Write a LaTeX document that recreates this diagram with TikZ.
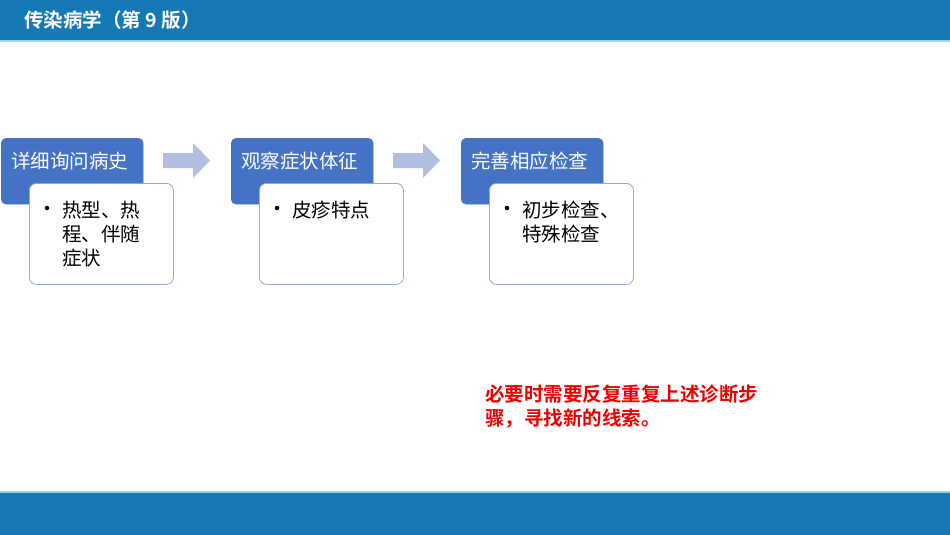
\documentclass[tikz,border=0pt]{standalone}
\usepackage{fontspec}
\setmainfont{Noto Sans CJK SC}
\newfontfamily\cjkb[BoldFont={Noto Sans CJK SC Bold}]{Noto Sans CJK SC}
\definecolor{band}{HTML}{1479B4}
\definecolor{bandline}{HTML}{9CD2EC}
\definecolor{hdr}{HTML}{4472C4}
\definecolor{bord}{HTML}{8EA9DB}
\definecolor{arr}{HTML}{B1BDE1}
\definecolor{redtxt}{HTML}{EE0000}
\tikzset{
  hdrbox/.style={fill=hdr, draw=hdr, rounded corners=5pt, minimum width=142pt, minimum height=66pt, anchor=north west, inner sep=0pt},
  bodybox/.style={fill=white, draw=bord, line width=0.8pt, rounded corners=7pt, minimum width=144pt, minimum height=101pt, anchor=north west, inner sep=0pt},
  hdrtext/.style={text=white, font=\fontsize{19.5}{22}\selectfont, anchor=west, inner sep=0pt},
  bullettext/.style={text=black, font=\fontsize{19.5}{24}\selectfont, anchor=north west, inner sep=0pt, align=left},
  dotstyle/.style={fill=black, circle, inner sep=0pt, minimum size=4.5pt},
  flowarrow/.style={fill=arr, draw=none}
}
\begin{document}
\begin{tikzpicture}[x=1pt,y=-1pt]
\useasboundingbox (0,0) rectangle (950,535);
\fill[white] (0,0) rectangle (950,535);
% bands
\fill[band] (0,0) rectangle (950,40);
\fill[bandline] (0,40) rectangle (950,42);
\fill[bandline] (0,491) rectangle (950,493);
\fill[band] (0,493) rectangle (950,535);
\node[text=white, font=\cjkb\bfseries\fontsize{19.5}{22}\selectfont, anchor=west, inner sep=0pt] (title) at (24,20) {传染病学（第 9 版）};
% stage 1
\node[hdrbox] (h1) at (1,138) {};
\node[bodybox] (b1) at (29,183) {};
\node[hdrtext] (t1) at (11,161) {详细询问病史};
\node[dotstyle] (d1) at (47,208) {};
\node[bullettext] (l1) at (62,201) {热型、热\\程、伴随\\症状};
% stage 2
\node[hdrbox] (h2) at (231,138) {};
\node[bodybox] (b2) at (259,183) {};
\node[hdrtext] (t2) at (241,161) {观察症状体征};
\node[dotstyle] (d2) at (277,208) {};
\node[bullettext] (l2) at (292,201) {皮疹特点};
% stage 3
\node[hdrbox] (h3) at (461,138) {};
\node[bodybox] (b3) at (489,183) {};
\node[hdrtext] (t3) at (471,161) {完善相应检查};
\node[dotstyle] (d3) at (507,208) {};
\node[bullettext] (l3) at (522,201) {初步检查、\\特殊检查};
% arrows
\fill[flowarrow] (163,153) -- (193,153) -- (193,143) -- (210,160.5) -- (193,178) -- (193,168) -- (163,168) -- cycle;
\fill[flowarrow] (393,153) -- (423,153) -- (423,143) -- (440,160.5) -- (423,178) -- (423,168) -- (393,168) -- cycle;
% red note
\node[text=redtxt, font=\cjkb\bfseries\fontsize{19.5}{23.5}\selectfont, anchor=north west, inner sep=0pt, align=left] (note) at (485,385) {必要时需要反复重复上述诊断步\\骤，寻找新的线索。};
\end{tikzpicture}
\end{document}
